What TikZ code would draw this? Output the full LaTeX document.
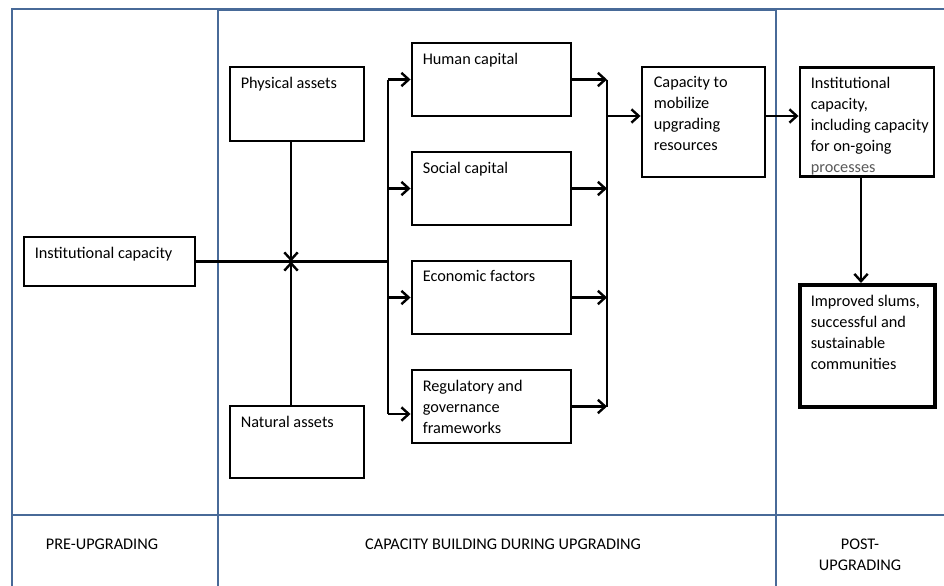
\documentclass[tikz,border=0pt]{standalone}
\usepackage{fontspec}
\setmainfont{Carlito}
\usetikzlibrary{arrows.meta,calc}
\definecolor{frameblue}{RGB}{72,106,152}
\begin{document}
\begin{tikzpicture}[x=0.75pt,y=-0.75pt,
  bx/.style={draw=black,line width=2.2pt,inner sep=0pt},
  txt/.style={anchor=north west,inner sep=0pt,align=left,font=\fontsize{12.2}{15.75}\selectfont},
  lbl/.style={inner sep=0pt,align=center,font=\fontsize{12.2}{15.75}\selectfont},
  arr/.style={line width=1.8pt,-{Straight Barb[length=5.5pt,width=10pt]}},
  ln/.style={line width=1.8pt},
  fr/.style={draw=frameblue,line width=1.5pt}]
\useasboundingbox (0,0) rectangle (944,585);
\clip (0,0) rectangle (944,585);
% frame
\draw[fr] (12,600) -- (12,9) -- (950,9);
\draw[fr] (218,600) -- (218,10) -- (776,10) -- (776,600);
\draw[fr] (12,515) -- (950,515);
% boxes
\node[bx,minimum width=171*0.75pt,minimum height=49*0.75pt] (inst) at (109.5,261.5) {};
\node[bx,minimum width=134*0.75pt,minimum height=74*0.75pt] (phys) at (297,104) {};
\node[bx,minimum width=134*0.75pt,minimum height=72*0.75pt] (nat) at (297,442) {};
\node[bx,minimum width=159*0.75pt,minimum height=73*0.75pt] (hum) at (491.5,79.5) {};
\node[bx,minimum width=159*0.75pt,minimum height=73*0.75pt] (soc) at (491.5,188.5) {};
\node[bx,minimum width=159*0.75pt,minimum height=73*0.75pt] (eco) at (491.5,297.5) {};
\node[bx,minimum width=159*0.75pt,minimum height=73*0.75pt] (reg) at (491.5,406.5) {};
\node[bx,minimum width=123*0.75pt,minimum height=110*0.75pt] (cap) at (703.5,122) {};
\node[bx,minimum width=134*0.75pt,minimum height=109*0.75pt] (inst2) at (867,122) {};
\node[bx,line width=3pt,minimum width=135*0.75pt,minimum height=122*0.75pt] (imp) at (867,346) {};
% texts
\node[txt] (inst-t) at ([shift={(12,11)}]inst.north west) {Institutional capacity};
\node[txt] (phys-t) at ([shift={(12,11)}]phys.north west) {Physical assets};
\node[txt] (nat-t) at ([shift={(12,11)}]nat.north west) {Natural assets};
\node[txt] (hum-t) at ([shift={(12,11)}]hum.north west) {Human capital};
\node[txt] (soc-t) at ([shift={(12,11)}]soc.north west) {Social capital};
\node[txt] (eco-t) at ([shift={(12,11)}]eco.north west) {Economic factors};
\node[txt] (reg-t) at ([shift={(12,11)}]reg.north west) {Regulatory and\\governance\\frameworks};
\node[txt] (cap-t) at ([shift={(13,11)}]cap.north west) {Capacity to\\mobilize\\upgrading\\resources};
\node[txt] (inst2-t) at ([shift={(12,11)}]inst2.north west) {Institutional\\capacity,\\including capacity\\for on-going\\\textcolor{black!65}{processes}};
\node[txt] (imp-t) at ([shift={(13,12)}]imp.north west) {Improved slums,\\successful and\\sustainable\\communities};
% phase labels
\node[lbl] (pre) at (102,544) {PRE-UPGRADING};
\node[lbl] (cb) at (503,544) {CAPACITY BUILDING DURING UPGRADING};
\node[lbl] (post) at (860,555) {POST-\\UPGRADING};
% connectors
\coordinate (j) at (291,261.5);
\coordinate (sL) at (388,261.5);
\coordinate (sR) at (607,116);
\coordinate (dn) at (861,0);
\draw[ln] (inst.east) -- (sL);
\draw[arr] (phys.south -| j) -- (j);
\draw[arr] (nat.north -| j) -- (j);
\draw[ln] (sL |- hum.west) -- (388,414);
\draw[arr] (sL |- hum.west) -- (hum.west);
\draw[arr] (sL |- soc.west) -- (soc.west);
\draw[arr] (sL |- eco.west) -- (eco.west);
\coordinate (r4) at (388,414);
\draw[arr] (r4) -- (r4 -| reg.west);
\draw[ln] (sR |- hum.east) -- (sR |- reg.east);
\draw[arr] (hum.east) -- (hum.east -| sR);
\draw[arr] (soc.east) -- (soc.east -| sR);
\draw[arr] (eco.east) -- (eco.east -| sR);
\draw[arr] (reg.east) -- (reg.east -| sR);
\draw[arr] (sR) -- (sR -| cap.west);
\draw[arr] (cap.east |- sR) -- (inst2.west |- sR);
\draw[arr] (inst2.south -| dn) -- (imp.north -| dn);
\end{tikzpicture}
\end{document}
